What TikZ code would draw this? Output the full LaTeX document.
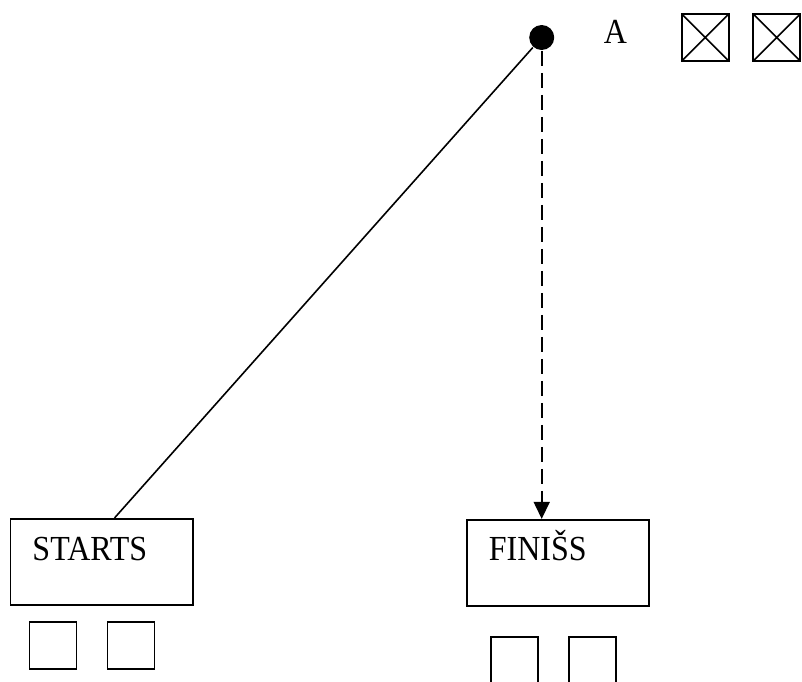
\documentclass[tikz,border=0pt]{standalone}
\usepackage{fontspec}
\setmainfont{Liberation Serif}
\usetikzlibrary{positioning,calc,arrows.meta}
\begin{document}
\begin{tikzpicture}[x=0.5pt,y=-0.5pt,line width=0.8pt,
  box/.style={draw,minimum width=91.2pt,minimum height=43pt,inner sep=0pt},
  sq/.style={draw,minimum size=23.5pt,inner sep=0pt},
  xsq/.style={sq,path picture={\draw (path picture bounding box.north west) -- (path picture bounding box.south east)
    (path picture bounding box.north east) -- (path picture bounding box.south west);}},
  txt/.style={anchor=base west,inner sep=0pt,font=\fontsize{16}{19}\selectfont}]

\useasboundingbox (0,0) rectangle (802,681);
\clip (0,0) rectangle (802,681);

% top: point A and its two crossed boxes
\node[circle,fill,minimum size=12.5pt,inner sep=0pt] (A) at (541.7,37.5) {};
\node[txt] (lblA) at (603,43) {\scalebox{1}[1.1]{A}};
\foreach \i/\x in {1/705.3,2/776.7} {\node[xsq] (x\i) at (\x,37.5) {};}

% start and finish
\node[box] (start) at (101.7,561.7) {};
\node[txt] (starttxt) at (31.7,560.7) {\scalebox{1}[1.1]{STARTS}};
\node[box] (fin) at (558,562.7) {};
\node[txt] (fintxt) at (488,560) {\scalebox{1}[1.1]{FINIŠS}};

% squares below
\foreach \i/\x in {1/53,2/131} {\node[sq] (s\i) at (\x,645.7) {};}
\foreach \i/\x in {1/514.3,2/592.3} {\node[sq] (f\i) at (\x,660.2) {};}

% connectors
\coordinate (startin) at ($(start.north west)!0.57!(start.north east)$);
\draw (A) -- (startin);
\draw[dash pattern=on 7.5pt off 3.5pt,-{Triangle[length=8.5pt,width=8pt]}] (A) -- (A |- fin.north);

\end{tikzpicture}
\end{document}
